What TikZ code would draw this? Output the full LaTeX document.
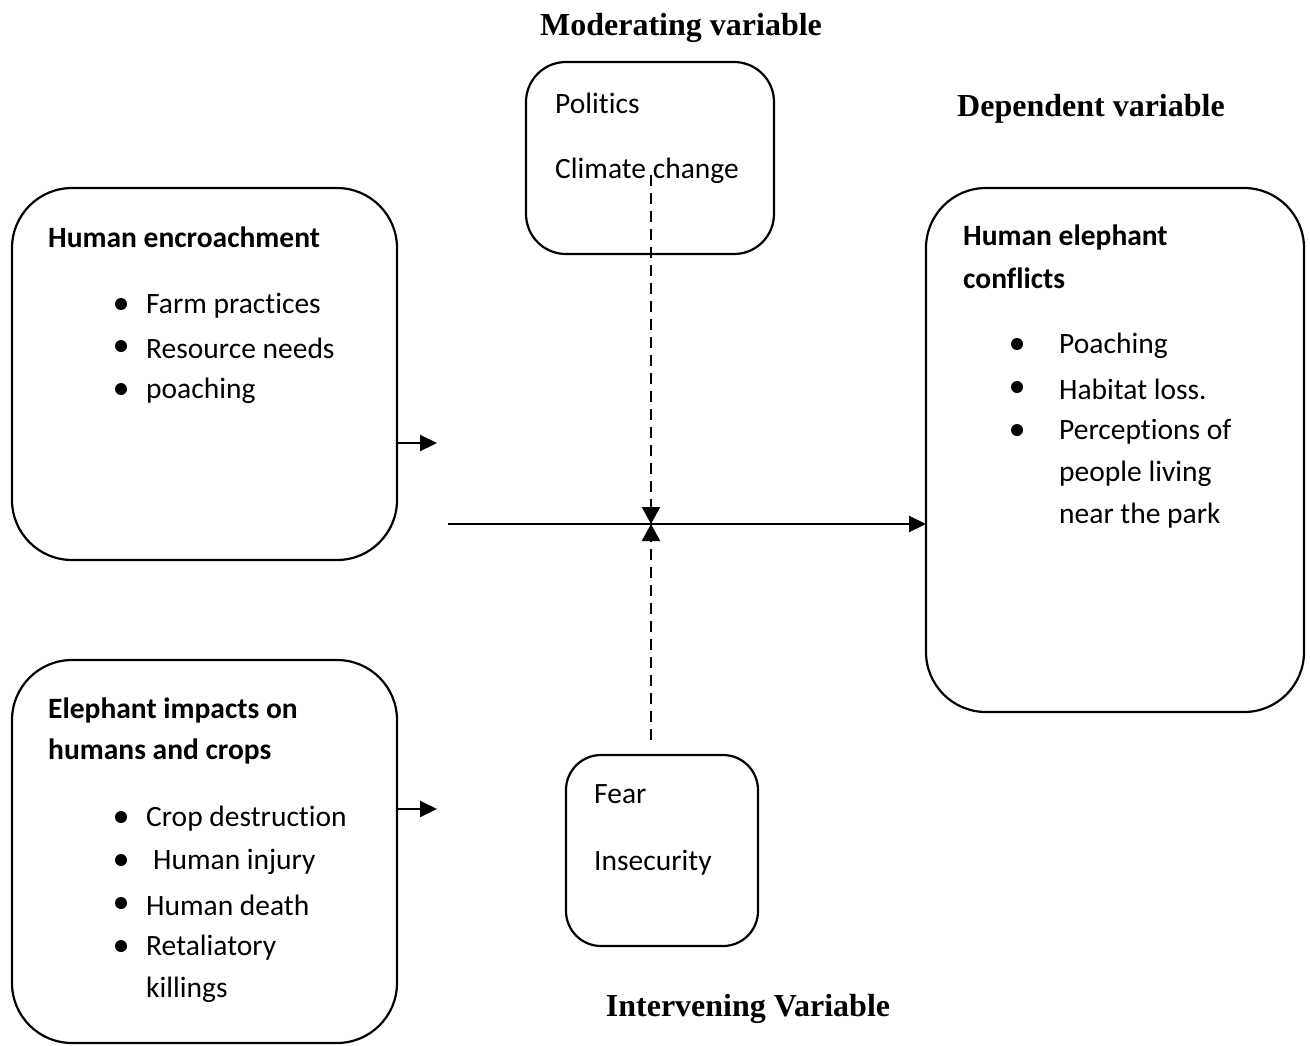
\documentclass[tikz,border=0pt]{standalone}
\usepackage{fontspec}
\setmainfont[Ligatures=NoCommon]{Carlito}
\newfontfamily\timesf{Liberation Serif}
\usetikzlibrary{arrows.meta}
\begin{document}
\begin{tikzpicture}[x=1pt,y=-1pt,
  box/.style={draw, line width=2.2pt, anchor=north west, inner sep=0pt, outer sep=0pt},
  txt/.style={anchor=west, inner sep=0pt, yshift=-3pt, font=\fontsize{29.5}{34}\selectfont},
  btxt/.style={txt, font=\fontsize{29.5}{34}\selectfont\bfseries},
  ttl/.style={inner sep=0pt, yshift=-2pt, font=\fontsize{32}{38}\selectfont\timesf\bfseries},
  bul/.style={circle, fill=black, inner sep=0pt, minimum size=12pt},
  arr/.style={line width=2.2pt, -{Triangle[length=17pt,width=16pt]}},
  darr/.style={line width=2.2pt, dash pattern=on 11pt off 7pt, -{Triangle[length=17pt,width=18pt]}}
]
\useasboundingbox (0,0) rectangle (1310,1045);
% titles
\node[ttl] (t1) at (681,26) {Moderating variable};
\node[ttl] (t2) at (1091,107) {Dependent variable};
\node[ttl] (t3) at (748,1007) {Intervening Variable};
% boxes
\node[box, rounded corners=40pt, minimum width=248pt, minimum height=192pt] (mod) at (526,62) {};
\node[box, rounded corners=60pt, minimum width=385pt, minimum height=372pt] (he) at (12,188) {};
\node[box, rounded corners=60pt, minimum width=378pt, minimum height=524pt] (dep) at (926,188) {};
\node[box, rounded corners=60pt, minimum width=385pt, minimum height=383pt] (ei) at (12,660) {};
\node[box, rounded corners=35pt, minimum width=192pt, minimum height=191pt] (int) at (566,755) {};
% moderating text
\node[txt] (m1) at (555,100) {Politics};
\node[txt] (m2) at (555,168) {Climate change};
% intervening text
\node[txt] (i1) at (594,791) {Fear};
\node[txt] (i2) at (594,860) {Insecurity};
% human encroachment
\node[btxt] (h0) at (48,234) {Human encroachment};
\node[bul] (hb1) at (121,304) {};
\node[bul] (hb2) at (121,346) {};
\node[bul] (hb3) at (121,389) {};
\node[txt] (h1) at (146,303) {Farm practices};
\node[txt] (h2) at (146,345) {Resource needs};
\node[txt] (h3) at (146,388) {poaching};
% dependent
\node[btxt] (d0) at (963,234) {Human elephant};
\node[btxt] (d0b) at (963,275) {conflicts};
\node[bul] (db1) at (1017,344) {};
\node[bul] (db2) at (1017,387) {};
\node[bul] (db3) at (1017,430) {};
\node[txt] (d1) at (1059,343) {Poaching};
\node[txt] (d2) at (1059,386) {Habitat loss.};
\node[txt] (d3) at (1059,429) {Perceptions of};
\node[txt] (d4) at (1059,471) {people living};
\node[txt] (d5) at (1059,513) {near the park};
% elephant impacts
\node[btxt] (e0) at (48,707) {Elephant impacts on};
\node[btxt] (e0b) at (48,748) {humans and crops};
\node[bul] (eb1) at (121,817) {};
\node[bul] (eb2) at (121,860) {};
\node[bul] (eb3) at (121,903) {};
\node[bul] (eb4) at (121,946) {};
\node[txt] (e1) at (146,816) {Crop destruction};
\node[txt] (e2) at (153,859) {Human injury};
\node[txt] (e3) at (146,902) {Human death};
\node[txt] (e4) at (146,945) {Retaliatory};
\node[txt] (e5) at (146,987) {killings};
% connectors
\coordinate (a1s) at (397,443);
\coordinate (a1e) at (437,443);
\coordinate (a2s) at (397,809);
\coordinate (a2e) at (437,809);
\coordinate (hs) at (448,524);
\coordinate (c) at (651,524);
\coordinate (ts) at (651,175);
\coordinate (bs) at (651,740);
\draw[arr] (a1s) -- (a1e);
\draw[arr] (a2s) -- (a2e);
\draw[arr] (hs) -- (dep.west |- hs);
\draw[darr] (ts) -- (c);
\draw[darr] (bs) -- (c);
\end{tikzpicture}
\end{document}
